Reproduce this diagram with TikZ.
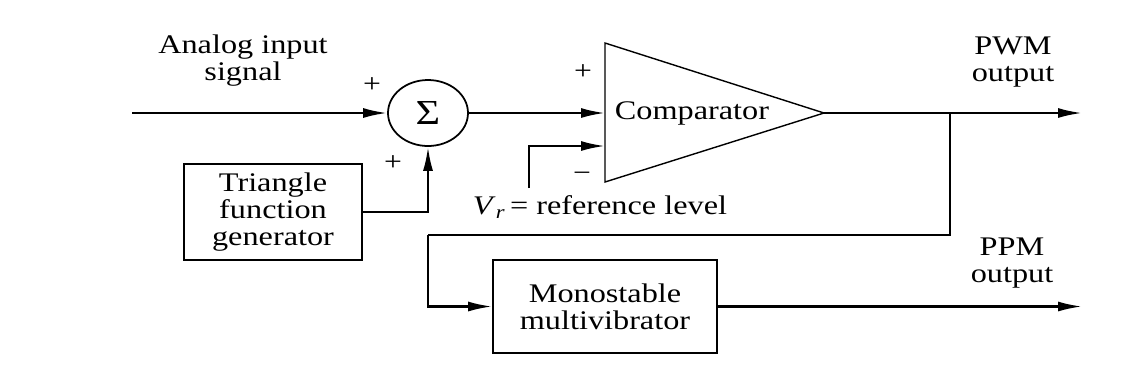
\documentclass[tikz,border=0pt]{standalone}
\usepackage{fontspec}
\setmainfont{Liberation Serif}[FakeStretch=1.2]
\usepackage{tikz}
\usetikzlibrary{arrows.meta, positioning, shapes.geometric}
\usepackage{xcolor}

\begin{document}
\begin{tikzpicture}[scale=1,
    sig/.style={line width=1.3pt, -{Latex[length=4.8mm, width=2mm]}},
    wire/.style={line width=1.3pt},
    blk/.style={draw, line width=1pt, align=center, inner sep=0pt},
    lbl/.style={align=center, inner sep=0pt},
    sgn/.style={inner sep=0pt, font=\fontsize{15}{15}\selectfont}]
  \useasboundingbox (0,0) rectangle (22.66,-7.58);
  \fontsize{15.3}{15.4}\selectfont
  % sommateur et generateur triangulaire
  \node[draw, ellipse, line width=1pt, minimum width=1.6cm, minimum height=1.32cm, inner sep=0pt] (sum) at (8.56,-2.26) {\fontsize{20}{20}\selectfont Σ};
  \node[blk, minimum width=3.56cm, minimum height=1.92cm] (tri) at (5.46,-4.24) {Triangle\\function\\generator};
  \coordinate (in) at (2.64,-2.26);
  \node[lbl] (inlbl) at (4.86,-1.22) {Analog input\\signal};
  \node[sgn] (p1) at (7.44,-1.70) {+};
  \node[sgn] (p2) at (7.86,-3.26) {+};
  \draw[sig] (in) -- (sum.west);
  \draw[sig] (tri.east) -| (sum.south);
  % comparateur
  \coordinate (cmptop) at (12.10,-0.86);
  \coordinate (cmpbot) at (12.10,-3.64);
  \coordinate (cmptip) at (16.48,-2.26);
  \coordinate (cmpplus) at (12.10,-2.26);
  \coordinate (cmpminus) at (12.10,-2.92);
  \draw[line width=0.8pt, line join=miter] (cmptop) -- (cmptip) -- (cmpbot) -- cycle;
  \node (cmp) at (13.84,-2.26) {Comparator};
  \node[sgn] (p3) at (11.66,-1.44) {+};
  \node[sgn] (m1) at (11.64,-3.54) {−};
  \draw[sig] (sum.east) -- (cmpplus);
  \coordinate (vref) at (10.58,-3.76);
  \draw[sig] (vref) |- (cmpminus);
  \node[lbl] (vreflbl) at (12.00,-4.14) {\textit{V}\textsubscript{\textit{r}}\,= reference level};
  % sorties PWM et PPM
  \coordinate (pwm) at (21.64,-2.26);
  \coordinate (br) at (19.00,-2.26);
  \coordinate (loop) at (8.56,-4.70);
  \draw[sig] (cmptip) -- (pwm);
  \node[lbl] (pwmlbl) at (20.26,-1.24) {PWM\\output};
  \node[blk, minimum width=4.48cm, minimum height=1.86cm] (mono) at (12.10,-6.13) {Monostable\\multivibrator};
  \draw[wire] (br) |- (loop);
  \draw[sig] (loop) |- (mono.west);
  \coordinate (ppm) at (21.64,-6.13);
  \draw[sig] (mono.east) -- (ppm);
  \node[lbl] (ppmlbl) at (20.24,-5.26) {PPM\\output};
\end{tikzpicture}
\end{document}
